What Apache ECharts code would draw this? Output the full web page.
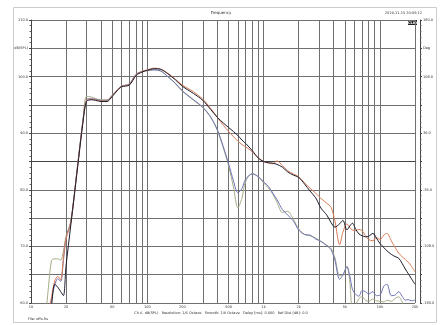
<!DOCTYPE html>
<html>
<head>
<meta charset="utf-8">
<script src="https://cdn.jsdelivr.net/npm/echarts@6/dist/echarts.min.js"></script>
<style>
  html, body { margin: 0; padding: 0; background: #fff; }
  #chart { width: 442px; height: 325px; }
</style>
</head>
<body>
<div id="chart"></div>
<script>
// frequency points (Hz)
const freq = [10, 12, 14, 15, 16, 17, 18, 19, 20, 22, 25, 28, 30, 33, 36, 40, 45, 50, 55, 60,
  70, 80, 90, 100, 115, 130, 150, 175, 200, 250, 300, 350, 400, 450, 500, 550, 600, 650, 700, 800,
  900, 1000, 1100, 1200, 1300, 1450, 1600, 1800, 2000, 2250, 2500, 2800, 3100, 3500, 3800, 4100, 4500, 4800, 5200, 5500,
  5800, 6200, 6600, 7000, 7500, 8000, 8700, 9300, 10000, 10800, 11500, 12500, 13500, 14500, 15500, 16500, 17500, 18500, 20000];

// dB(SPL) per trace
const splBlack = [50, 50, 55, 59.5, 63.3, 62.8, 62.0, 61.3, 66.5, 73.8, 83.5, 92.0, 95.6, 95.9, 95.8, 95.6, 95.6, 96.5, 97.5, 98.2,
  98.5, 100.2, 100.8, 101.1, 101.4, 101.3, 100.5, 99.4, 98.3, 97.0, 95.8, 94.2, 92.8, 91.8, 91.0, 90.3, 89.6, 88.8, 88.2, 86.9,
  85.6, 85.0, 84.8, 84.7, 84.5, 84.0, 83.2, 82.6, 82.2, 81.0, 79.8, 78.6, 76.8, 75.5, 74.2, 73.4, 74.0, 74.6, 72.9, 73.6,
  74.1, 73.0, 72.2, 71.9, 71.7, 71.8, 72.3, 71.5, 70.5, 69.8, 69.2, 68.6, 68.2, 67.9, 67.0, 66.0, 65.2, 64.4, 63.3];
const splOrange = [50, 50, 58, 61, 63.9, 64.7, 64.1, 68, 71.3, 74.3, 83.7, 92.2, 95.8, 96.0, 95.9, 95.7, 95.7, 96.6, 97.6, 98.3,
  98.6, 100.3, 100.9, 101.2, 101.5, 101.3, 100.6, 99.5, 98.5, 97.3, 96.0, 94.4, 92.8, 91.4, 90.3, 89.4, 88.6, 88.0, 87.6, 86.7,
  85.6, 85.0, 84.7, 84.6, 85.1, 84.3, 83.4, 82.8, 82.3, 81.2, 80.3, 79.4, 78.5, 77.6, 76.9, 74.5, 70.3, 72.5, 74.0, 73.3,
  72.9, 72.8, 73.0, 72.8, 71.9, 71.2, 71.0, 71.6, 71.2, 72.0, 72.3, 71.0, 69.8, 68.8, 68.2, 67.7, 67.2, 66.6, 65.5];
const splBlue = [50, 50, 57, 60.5, 63.2, 64.3, 63.8, 67.5, 71.4, 74.3, 83.8, 92.3, 95.9, 96.1, 96.0, 95.8, 95.8, 96.7, 97.6, 98.3,
  98.7, 100.4, 100.9, 101.1, 101.2, 101.0, 100.0, 98.8, 97.5, 95.9, 94.6, 92.9, 90.6, 87.6, 84.6, 81.6, 79.5, 80.2, 81.9, 82.8,
  82.3, 81.4, 80.6, 79.4, 78.3, 76.5, 75.6, 74.5, 72.9, 72.1, 72.0, 71.3, 70.9, 70.1, 69.4, 67.5, 64.2, 64.9, 66.4, 64.8,
  62.4, 61.5, 61.2, 62.2, 62.0, 61.6, 62.0, 61.3, 61.4, 63.0, 63.3, 61.3, 61.4, 62.0, 61.2, 60.5, 60.6, 60.4, 60.5];
const splGreen = [50, 50, 62, 67.5, 67.8, 67.8, 67.6, 69.2, 71.8, 74.5, 83.9, 92.5, 96.5, 96.4, 96.1, 95.9, 95.9, 96.7, 97.6, 98.3,
  98.7, 100.4, 100.9, 101.1, 101.2, 101.0, 100.0, 98.7, 97.4, 95.8, 94.5, 92.8, 90.5, 87.4, 84.2, 80.5, 76.8, 78.5, 81.5, 82.9,
  82.3, 81.2, 80.3, 79.2, 77.8, 76.0, 76.2, 74.8, 73.1, 72.1, 71.9, 71.5, 70.9, 70.2, 69.6, 68.0, 64.8, 65.0, 66.5, 63.8,
  59.0, 59.8, 60.8, 61.1, 60.5, 60.3, 60.7, 60.4, 60.3, 60.2, 60.5, 60.3, 60.8, 61.1, 60.2, 59.0, 58.5, 58.5, 58.0];

// grid lines and labelled ticks on the frequency axis
const gridFreqs = [10, 20, 30, 40, 50, 60, 70, 80, 90, 100, 200, 300, 400, 500, 600, 700, 800, 900,
  1000, 2000, 3000, 4000, 5000, 6000, 7000, 8000, 9000, 10000, 20000];
const labelFreqs = [10, 20, 50, 100, 200, 500, 1000, 2000, 5000, 10000, 20000];

const chart = echarts.init(document.getElementById('chart'));

const pairs = (vals) => freq.map((f, i) => [f, vals[i]]);
const tiny = { fontFamily: 'DejaVu Sans', fontSize: 3.5, color: '#333' };

function trace(name, vals, color) {
  return {
    name: name,
    type: 'line',
    data: pairs(vals),
    showSymbol: false,
    smooth: 0.3,
    lineStyle: { color: color, width: 1 },
    z: 3
  };
}

chart.setOption({
  animation: false,
  backgroundColor: '#fff',
  grid: { left: 31, right: 27, top: 20, bottom: 22 },
  xAxis: {
    type: 'log',
    logBase: 10,
    min: 10,
    max: 20000,
    axisLine: { show: true, lineStyle: { color: '#444', width: 1 } },
    axisTick: { show: false, customValues: gridFreqs },
    axisLabel: {
      ...tiny,
      margin: 2,
      customValues: labelFreqs,
      formatter: (v) => (v >= 1000 ? (v / 1000) + 'k' : String(v))
    },
    splitLine: { show: true, lineStyle: { color: '#707070', width: 1 } }
  },
  yAxis: [
    {
      type: 'value',
      min: 60,
      max: 110,
      interval: 5,
      axisLine: { show: true, lineStyle: { color: '#444' } },
      axisTick: { show: true, length: 2, lineStyle: { color: '#444' } },
      minorTick: { show: true, splitNumber: 5, length: 1.5, lineStyle: { color: '#666' } },
      axisLabel: {
        ...tiny,
        margin: 3,
        formatter: (v) => (v === 105 ? 'dB(SPL)' : (v % 10 === 0 ? v.toFixed(1) : ''))
      },
      splitLine: { show: true, lineStyle: { color: '#707070', width: 1 } }
    },
    {
      type: 'value',
      min: -180,
      max: 180,
      interval: 36,
      position: 'right',
      offset: 5,
      axisLine: { show: true, lineStyle: { color: '#444' } },
      axisTick: { show: true, length: 2, lineStyle: { color: '#444' } },
      minorTick: { show: true, splitNumber: 5, length: 1.5, lineStyle: { color: '#666' } },
      axisLabel: {
        ...tiny,
        margin: 3,
        formatter: (v) => (v === 144 ? 'Deg' : (Math.round(v) % 72 === 36 || Math.abs(v) === 180 || Math.round(v) % 72 === -36 ? v.toFixed(1) : ''))
      },
      splitLine: { show: false }
    }
  ],
  graphic: [
    { type: 'rect', shape: { x: 13.5, y: 7.5, width: 423, height: 315 }, style: { fill: 'none', stroke: '#ccc', lineWidth: 1 } },
    { type: 'text', left: 'center', top: 11, style: { text: 'Frequency', font: '4px "DejaVu Sans"', fill: '#333' } },
    { type: 'text', right: 20, top: 11, style: { text: '2019-11-15 20:05:12', font: '3.5px "DejaVu Sans"', fill: '#333' } },
    { type: 'rect', shape: { x: 408, y: 20, width: 9, height: 5 }, style: { fill: '#222' } },
    { type: 'text', x: 412.5, y: 21, style: { text: 'CLIO', font: 'bold 3.5px "DejaVu Sans"', fill: '#fff', align: 'center' } },
    { type: 'text', left: 'center', top: 311, style: { text: 'Ch A  dB(SPL)   Resolution: 1/6 Octave   Smooth: 1/6 Octave   Delay [ms]: 0.000   Ref Dist [dB]: 0.0', font: '3.5px "DejaVu Sans"', fill: '#333' } },
    { type: 'text', x: 28, y: 317, style: { text: 'File: offs.frs', font: '3.5px "DejaVu Sans"', fill: '#333' } }
  ],
  series: [
    trace('Green', splGreen, '#a3ad86'),
    trace('Blue', splBlue, '#6f74b4'),
    trace('Orange', splOrange, '#d97b55'),
    trace('Black', splBlack, '#1c1c2c')
  ]
});
</script>
</body>
</html>
